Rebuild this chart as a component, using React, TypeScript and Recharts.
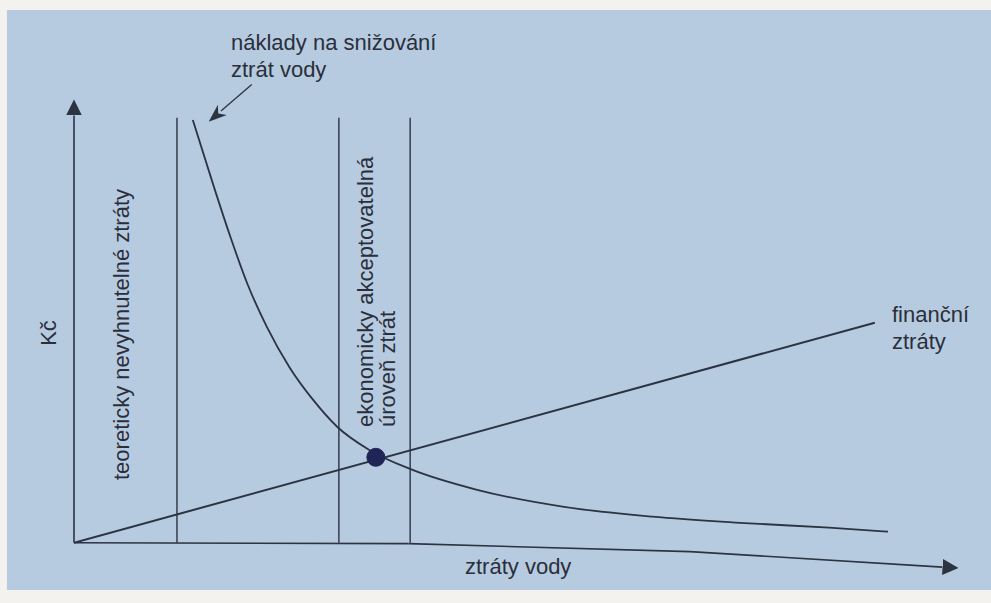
import { LineChart, Line, XAxis, YAxis, ReferenceLine, ReferenceDot } from 'recharts'

// financni ztraty (straight line)
const lossX = [0, 91]
const lossY = [0, 49.7]

// naklady na snizovani ztrat vody (decreasing curve)
const costX = [13.5, 15.8, 17.7, 19.7, 21.9, 24.5, 27.2, 29.9, 33.6, 38.4, 45.7, 55.7, 65.7, 75.7, 85.8, 92.5]
const costY = [95.5, 81.0, 69.5, 58.5, 48.8, 39.6, 32.2, 26.2, 20.9, 16.5, 12.0, 8.1, 5.9, 4.5, 3.4, 2.5]

// vertical boundaries
const boundaryX = [11.7, 30.1, 38.2]
const boundaryTop = 96

// x axis as drawn (page sags to the right)
const axisX = [0, 38, 70, 98.7]
const axisY = [0, -0.2, -2.0, -5.5]

// optimum point
const optimum = { x: 34.3, y: 19.3 }

const ink = '#2c3341'
const font = '"Liberation Sans", Arial, sans-serif'

const lossData = lossX.map((x, i) => ({ x, y: lossY[i] }))
const costData = costX.map((x, i) => ({ x, y: costY[i] }))

export default function App() {
  return (
    <div style={{ position: 'relative', width: 991, height: 603, background: '#f3f2ef' }}>
      <style>{'body{margin:0}'}</style>
      <div
        style={{
          position: 'absolute',
          left: 7,
          top: 10,
          width: 984,
          height: 580,
          background: '#b7cbe0',
        }}
      />
      <div style={{ position: 'absolute', left: 0, top: 0 }}>
        <LineChart width={991} height={603} margin={{ top: 100, right: 37, bottom: 16, left: 74 }}>
          <defs>
            <marker
              id="axisHead"
              viewBox="0 0 10 10"
              refX="0"
              refY="5"
              markerUnits="userSpaceOnUse"
              markerWidth="16"
              markerHeight="16"
              orient="auto"
            >
              <path d="M0,0 L10,5 L0,10 z" fill={ink} />
            </marker>
            <marker
              id="noteHead"
              viewBox="0 0 10 10"
              refX="1"
              refY="5"
              markerUnits="userSpaceOnUse"
              markerWidth="18"
              markerHeight="18"
              orient="auto"
            >
              <path d="M0,1.2 L10,5 L0,8.8 L3,5 z" fill={ink} />
            </marker>
          </defs>
          <XAxis type="number" dataKey="x" domain={[0, 100]} hide allowDataOverflow />
          <YAxis type="number" dataKey="y" domain={[-10, 100]} hide allowDataOverflow />

          {/* axes */}
          {axisX.slice(1).map((x, i) => (
            <ReferenceLine
              key={'ax' + i}
              segment={[{ x: axisX[i], y: axisY[i] }, { x, y: axisY[i + 1] }]}
              stroke={ink}
              strokeWidth={1.6}
              markerEnd={i === axisX.length - 2 ? 'url(#axisHead)' : undefined}
              ifOverflow="visible"
            />
          ))}
          <ReferenceLine
            segment={[{ x: 0, y: 0 }, { x: 0, y: 96.5 }]}
            stroke={ink}
            strokeWidth={1.6}
            markerEnd="url(#axisHead)"
            ifOverflow="visible"
          />

          {boundaryX.map((x) => (
            <ReferenceLine
              key={x}
              segment={[{ x, y: 0 }, { x, y: boundaryTop }]}
              stroke={ink}
              strokeWidth={1.4}
              ifOverflow="visible"
            />
          ))}

          {/* annotation arrow */}
          <ReferenceLine
            segment={[{ x: 20.2, y: 103.5 }, { x: 16.7, y: 97.5 }]}
            stroke={ink}
            strokeWidth={1.3}
            markerEnd="url(#noteHead)"
            ifOverflow="visible"
          />

          <Line
            data={lossData}
            dataKey="y"
            type="linear"
            stroke={ink}
            strokeWidth={2}
            dot={false}
            isAnimationActive={false}
          />
          <Line
            data={costData}
            dataKey="y"
            type="monotone"
            stroke={ink}
            strokeWidth={1.8}
            dot={false}
            isAnimationActive={false}
          />
          <ReferenceDot x={optimum.x} y={optimum.y} r={9} fill="#1f2556" stroke="#1f2556" ifOverflow="visible" />

          <g fontFamily={font} fill="#2a2f3b" fontSize={22}>
            <text x={231} y={50}>náklady na snižování</text>
            <text x={231} y={77}>ztrát vody</text>
            <text x={892} y={322}>finanční</text>
            <text x={892} y={349}>ztráty</text>
            <text x={465} y={574}>ztráty vody</text>
            <text transform="translate(56,333) rotate(-90)" textAnchor="middle">Kč</text>
            <text transform="translate(129,480) rotate(-90)">teoreticky nevyhnutelné ztráty</text>
            <text transform="translate(373,427) rotate(-90)">ekonomicky akceptovatelná</text>
            <text transform="translate(395,427) rotate(-90)">úroveň ztrát</text>
          </g>
        </LineChart>
      </div>
    </div>
  )
}
